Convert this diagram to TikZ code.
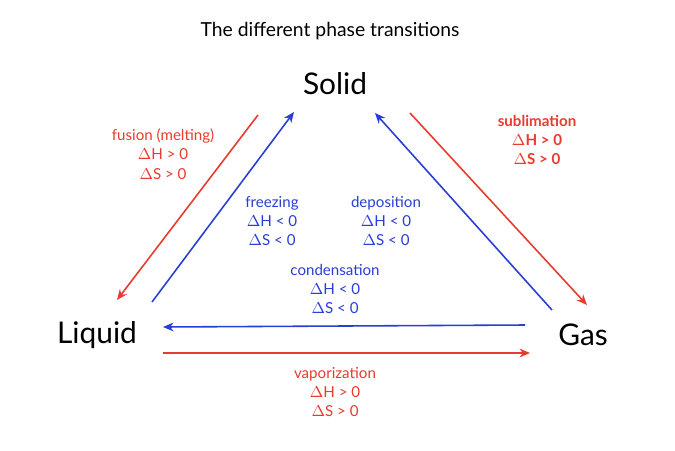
\documentclass[tikz,border=0pt]{standalone}
\usepackage{fontspec}
\setmainfont{Lato}
\usetikzlibrary{arrows.meta}
\begin{document}
\begin{tikzpicture}[x=0.02cm,y=-0.02cm]
\definecolor{rd}{RGB}{232,58,46}
\definecolor{bl}{RGB}{40,62,212}
\tikzset{big/.style={font=\fontsize{17}{20}\selectfont},
 lab/.style={font=\fontsize{8.6}{11}\selectfont,align=center},
 arr/.style={-{Stealth[length=6pt,width=5pt]},line width=0.9pt}}
\useasboundingbox (0,0) rectangle (675,450);
\node[font=\fontsize{11}{13}\selectfont] (title) at (330,31) {The different phase transitions};
\node[big] (solid) at (335,84) {Solid};
\node[big] (liquid) at (97,335) {Liquid};
\node[big] (gas) at (583,335) {Gas};
\coordinate (f1) at (258,115); \coordinate (f2) at (117,300);
\coordinate (z1) at (152,302); \coordinate (z2) at (294,112);
\coordinate (d1) at (552,310); \coordinate (d2) at (375,113);
\coordinate (s1) at (410,113); \coordinate (s2) at (587,305);
\coordinate (c1) at (525,325); \coordinate (c2) at (163,327);
\coordinate (v1) at (163,353); \coordinate (v2) at (530,353);
\draw[arr,rd] (f1) -- (f2);
\draw[arr,bl] (z1) -- (z2);
\draw[arr,bl] (d1) -- (d2);
\draw[arr,rd] (s1) -- (s2);
\draw[arr,bl] (c1) -- (c2);
\draw[arr,rd] (v1) -- (v2);
\node[lab,rd] (fus) at (163,154) {fusion (melting)\\$\Delta$H > 0\\$\Delta$S > 0};
\node[lab,rd,font=\fontsize{8.6}{11}\selectfont\bfseries] (sub) at (537,140) {sublimation\\$\Delta$H > 0\\$\Delta$S > 0};
\node[lab,bl] (frz) at (272,221) {freezing\\$\Delta$H < 0\\$\Delta$S < 0};
\node[lab,bl] (dep) at (386,221) {deposition\\$\Delta$H < 0\\$\Delta$S < 0};
\node[lab,bl] (con) at (335,289) {condensation\\$\Delta$H < 0\\$\Delta$S < 0};
\node[lab,rd] (vap) at (335,392) {vaporization\\$\Delta$H > 0\\$\Delta$S > 0};
\end{tikzpicture}
\end{document}
